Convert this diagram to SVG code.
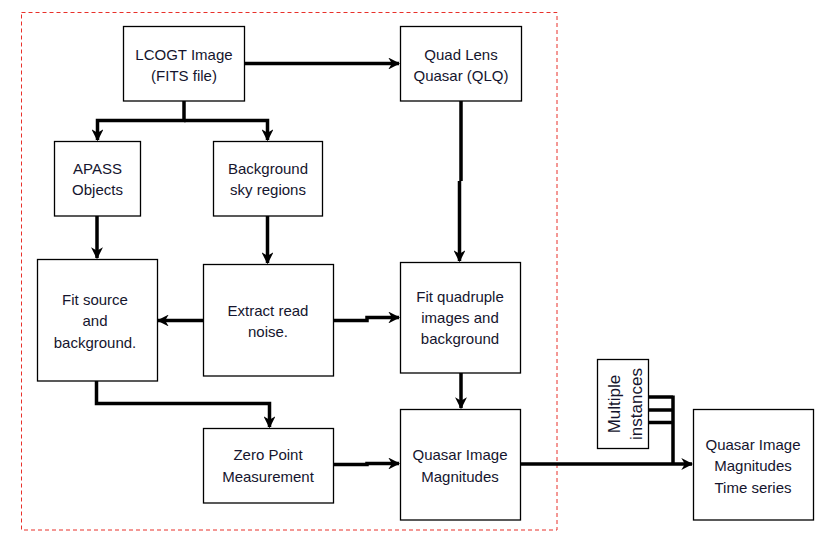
<svg xmlns="http://www.w3.org/2000/svg" width="836" height="547" viewBox="0 0 836 547">
<defs>
<style>
.box{fill:#fff;stroke:#000;stroke-width:1.3}
.t{font-family:"Liberation Sans",Arial,sans-serif;font-size:15px;fill:#15152e;text-anchor:middle}
.r{font-size:17px}
.c{fill:none;stroke:#000;stroke-width:3.5;stroke-linejoin:miter}
</style>
<marker id="ah" viewBox="0 0 10 10" refX="9" refY="5" markerWidth="3.4" markerHeight="3.4" orient="auto" markerUnits="strokeWidth">
<path d="M0,0 L10,5 L0,10 L3,5 z" fill="#000"/>
</marker>
</defs>
<rect width="836" height="547" fill="#fff"/>
<rect x="21.5" y="12.5" width="535.5" height="517.5" fill="none" stroke="#e8302a" stroke-width="1" stroke-dasharray="4,3"/>

<g id="connectors">
<path class="c" d="M244,63.5 H399" marker-end="url(#ah)"/>
<path class="c" d="M184,101 V120.5 H97.5 V140" marker-end="url(#ah)"/>
<path class="c" d="M184,120.5 H267.5 V140" marker-end="url(#ah)"/>
<path class="c" d="M97,216 V258" marker-end="url(#ah)"/>
<path class="c" d="M267.5,216 V263" marker-end="url(#ah)"/>
<path class="c" d="M461,101 V181 M459.5,181 V261" marker-end="url(#ah)"/>
<path class="c" d="M203,320.5 H158" marker-end="url(#ah)"/>
<path class="c" d="M333,320.5 H367 V317.5 H399" marker-end="url(#ah)"/>
<path class="c" d="M96.5,381 V403.5 H269.5 V427" marker-end="url(#ah)"/>
<path class="c" d="M461,373 V408" marker-end="url(#ah)"/>
<path class="c" d="M333,464.5 H367 V463.5 H399" marker-end="url(#ah)"/>
<path class="c" d="M520,464 H692" marker-end="url(#ah)"/>
<path class="c" d="M648,397 H673 M648,410 H673 M648,422.5 H673 M673,395.5 V464"/>
</g>

<g id="lcogt">
<rect class="box" x="123.5" y="26.5" width="121" height="74.5"/>
<text class="t" x="184" y="60">LCOGT Image</text>
<text class="t" x="184" y="81">(FITS file)</text>
</g>
<g id="qlq">
<rect class="box" x="400.5" y="26.5" width="121" height="74.5"/>
<text class="t" x="461" y="60">Quad Lens</text>
<text class="t" x="461" y="81">Quasar (QLQ)</text>
</g>
<g id="apass">
<rect class="box" x="54.5" y="141.5" width="86" height="74.5"/>
<text class="t" x="97.5" y="174">APASS</text>
<text class="t" x="97.5" y="195">Objects</text>
</g>
<g id="background">
<rect class="box" x="213.5" y="141.5" width="109" height="74.5"/>
<text class="t" x="268" y="174">Background</text>
<text class="t" x="268" y="195">sky regions</text>
</g>
<g id="fitsource">
<rect class="box" x="37.5" y="259.5" width="120" height="121.5"/>
<text class="t" x="95" y="305">Fit source</text>
<text class="t" x="95" y="326">and</text>
<text class="t" x="95" y="348">background.</text>
</g>
<g id="extract">
<rect class="box" x="203.5" y="264.5" width="130" height="111.5"/>
<text class="t" x="268" y="316">Extract read</text>
<text class="t" x="268" y="337">noise.</text>
</g>
<g id="fitquad">
<rect class="box" x="400.5" y="262.5" width="120" height="110.5"/>
<text class="t" x="460" y="302">Fit quadruple</text>
<text class="t" x="460" y="323">images and</text>
<text class="t" x="460" y="344">background</text>
</g>
<g id="zeropoint">
<rect class="box" x="203.5" y="428.5" width="130" height="74.5"/>
<text class="t" x="268" y="460">Zero Point</text>
<text class="t" x="268" y="482">Measurement</text>
</g>
<g id="quasarmag">
<rect class="box" x="400.5" y="409.5" width="120" height="110.5"/>
<text class="t" x="460" y="460">Quasar Image</text>
<text class="t" x="460" y="482">Magnitudes</text>
</g>
<g id="multiple">
<rect class="box" x="597.5" y="359.5" width="51" height="89"/>
<text class="t r" transform="translate(620,404) rotate(-90)">Multiple</text>
<text class="t r" transform="translate(642,404) rotate(-90)">instances</text>
</g>
<g id="timeseries">
<rect class="box" x="693.5" y="409.5" width="120" height="110.5"/>
<text class="t" x="753" y="450">Quasar Image</text>
<text class="t" x="753" y="471">Magnitudes</text>
<text class="t" x="753" y="493">Time series</text>
</g>
</svg>
